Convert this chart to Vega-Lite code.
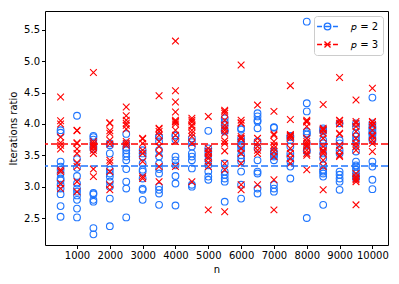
{
  "$schema": "https://vega.github.io/schema/vega-lite/v6.json",
  "autosize": "none",
  "width": 343,
  "height": 234,
  "padding": {"left": 45, "top": 11, "right": 11, "bottom": 39},
  "background": "white",
  "config": {
    "view": {"stroke": "black", "strokeWidth": 1},
    "axis": {
      "labelFont": "DejaVu Sans", "labelFontSize": 10, "labelColor": "black",
      "titleFont": "DejaVu Sans", "titleFontSize": 10, "titleFontWeight": "normal", "titleColor": "black",
      "tickColor": "black", "tickSize": 3.5, "domain": false, "grid": false, "labelPadding": 2, "labelOverlap": false
    },
    "legend": {
      "title": null,
      "orient": "top-right",
      "offset": 5,
      "padding": 4,
      "strokeColor": "#cccccc",
      "fillColor": "rgba(255,255,255,0.8)",
      "cornerRadius": 3,
      "labelFont": "DejaVu Sans",
      "labelFontSize": 10,
      "labelColor": "black",
      "symbolSize": 121,
      "symbolStrokeWidth": 1.3,
      "symbolOpacity": 1,
      "symbolFillColor": "transparent",
      "symbolOffset": 3,
      "labelOffset": 17,
      "rowPadding": 5
    }
  },
  "datasets": {
    "means": [{"p": "2", "v": 3.33}, {"p": "3", "v": 3.68}],
    "pts": [
      {"n":500,"p":"2","v":3.90},{"n":500,"p":"2","v":3.86},{"n":500,"p":"2","v":3.40},{"n":500,"p":"2","v":3.32},{"n":500,"p":"2","v":3.27},{"n":500,"p":"2","v":3.21},{"n":500,"p":"2","v":3.13},{"n":500,"p":"2","v":3.10},{"n":500,"p":"2","v":3.03},{"n":500,"p":"2","v":2.97},{"n":500,"p":"2","v":2.88},{"n":500,"p":"2","v":2.69},{"n":500,"p":"2","v":2.52},
      {"n":1000,"p":"2","v":4.13},{"n":1000,"p":"2","v":3.44},{"n":1000,"p":"2","v":3.30},{"n":1000,"p":"2","v":3.17},{"n":1000,"p":"2","v":3.05},{"n":1000,"p":"2","v":2.97},{"n":1000,"p":"2","v":2.92},{"n":1000,"p":"2","v":2.86},{"n":1000,"p":"2","v":2.79},{"n":1000,"p":"2","v":2.65},{"n":1000,"p":"2","v":2.51},
      {"n":1500,"p":"2","v":3.81},{"n":1500,"p":"2","v":3.79},{"n":1500,"p":"2","v":3.75},{"n":1500,"p":"2","v":3.69},{"n":1500,"p":"2","v":3.64},{"n":1500,"p":"2","v":3.60},{"n":1500,"p":"2","v":2.90},{"n":1500,"p":"2","v":2.88},{"n":1500,"p":"2","v":2.79},{"n":1500,"p":"2","v":2.76},{"n":1500,"p":"2","v":2.34},{"n":1500,"p":"2","v":2.24},
      {"n":2000,"p":"2","v":3.69},{"n":2000,"p":"2","v":3.66},{"n":2000,"p":"2","v":3.53},{"n":2000,"p":"2","v":3.27},{"n":2000,"p":"2","v":3.21},{"n":2000,"p":"2","v":3.16},{"n":2000,"p":"2","v":3.08},{"n":2000,"p":"2","v":3.00},{"n":2000,"p":"2","v":2.81},{"n":2000,"p":"2","v":2.37},
      {"n":2500,"p":"2","v":3.84},{"n":2500,"p":"2","v":3.69},{"n":2500,"p":"2","v":3.62},{"n":2500,"p":"2","v":3.58},{"n":2500,"p":"2","v":3.53},{"n":2500,"p":"2","v":3.48},{"n":2500,"p":"2","v":3.42},{"n":2500,"p":"2","v":3.28},{"n":2500,"p":"2","v":3.08},{"n":2500,"p":"2","v":2.97},{"n":2500,"p":"2","v":2.51},
      {"n":3000,"p":"2","v":3.58},{"n":3000,"p":"2","v":3.53},{"n":3000,"p":"2","v":3.48},{"n":3000,"p":"2","v":3.37},{"n":3000,"p":"2","v":3.27},{"n":3000,"p":"2","v":3.24},{"n":3000,"p":"2","v":3.13},{"n":3000,"p":"2","v":2.97},{"n":3000,"p":"2","v":2.95},{"n":3000,"p":"2","v":2.79},
      {"n":3500,"p":"2","v":3.80},{"n":3500,"p":"2","v":3.79},{"n":3500,"p":"2","v":3.72},{"n":3500,"p":"2","v":3.58},{"n":3500,"p":"2","v":3.48},{"n":3500,"p":"2","v":3.37},{"n":3500,"p":"2","v":3.28},{"n":3500,"p":"2","v":3.21},{"n":3500,"p":"2","v":3.00},{"n":3500,"p":"2","v":2.95},{"n":3500,"p":"2","v":2.89},{"n":3500,"p":"2","v":2.71},
      {"n":4000,"p":"2","v":3.82},{"n":4000,"p":"2","v":3.81},{"n":4000,"p":"2","v":3.75},{"n":4000,"p":"2","v":3.48},{"n":4000,"p":"2","v":3.42},{"n":4000,"p":"2","v":3.34},{"n":4000,"p":"2","v":3.17},{"n":4000,"p":"2","v":3.05},{"n":4000,"p":"2","v":2.70},
      {"n":4500,"p":"2","v":3.77},{"n":4500,"p":"2","v":3.71},{"n":4500,"p":"2","v":3.64},{"n":4500,"p":"2","v":3.53},{"n":4500,"p":"2","v":3.48},{"n":4500,"p":"2","v":3.42},{"n":4500,"p":"2","v":3.29},{"n":4500,"p":"2","v":3.03},{"n":4500,"p":"2","v":3.00},
      {"n":5000,"p":"2","v":3.89},{"n":5000,"p":"2","v":3.61},{"n":5000,"p":"2","v":3.56},{"n":5000,"p":"2","v":3.50},{"n":5000,"p":"2","v":3.42},{"n":5000,"p":"2","v":3.34},{"n":5000,"p":"2","v":3.24},{"n":5000,"p":"2","v":3.16},{"n":5000,"p":"2","v":3.11},
      {"n":5500,"p":"2","v":4.09},{"n":5500,"p":"2","v":4.03},{"n":5500,"p":"2","v":3.98},{"n":5500,"p":"2","v":3.90},{"n":5500,"p":"2","v":3.88},{"n":5500,"p":"2","v":3.37},{"n":5500,"p":"2","v":3.24},{"n":5500,"p":"2","v":3.19},{"n":5500,"p":"2","v":3.13},{"n":5500,"p":"2","v":3.08},{"n":5500,"p":"2","v":2.76},
      {"n":6000,"p":"2","v":3.93},{"n":6000,"p":"2","v":3.91},{"n":6000,"p":"2","v":3.77},{"n":6000,"p":"2","v":3.72},{"n":6000,"p":"2","v":3.66},{"n":6000,"p":"2","v":3.64},{"n":6000,"p":"2","v":3.58},{"n":6000,"p":"2","v":3.50},{"n":6000,"p":"2","v":3.45},{"n":6000,"p":"2","v":3.40},{"n":6000,"p":"2","v":3.24},{"n":6000,"p":"2","v":3.03},{"n":6000,"p":"2","v":2.81},
      {"n":6500,"p":"2","v":4.17},{"n":6500,"p":"2","v":4.12},{"n":6500,"p":"2","v":4.06},{"n":6500,"p":"2","v":4.04},{"n":6500,"p":"2","v":3.93},{"n":6500,"p":"2","v":3.72},{"n":6500,"p":"2","v":3.61},{"n":6500,"p":"2","v":3.42},{"n":6500,"p":"2","v":3.24},{"n":6500,"p":"2","v":3.21},{"n":6500,"p":"2","v":2.97},{"n":6500,"p":"2","v":2.89},
      {"n":7000,"p":"2","v":3.95},{"n":7000,"p":"2","v":3.94},{"n":7000,"p":"2","v":3.56},{"n":7000,"p":"2","v":3.53},{"n":7000,"p":"2","v":3.50},{"n":7000,"p":"2","v":3.48},{"n":7000,"p":"2","v":3.42},{"n":7000,"p":"2","v":3.03},{"n":7000,"p":"2","v":2.97},{"n":7000,"p":"2","v":2.92},
      {"n":7500,"p":"2","v":3.81},{"n":7500,"p":"2","v":3.79},{"n":7500,"p":"2","v":3.74},{"n":7500,"p":"2","v":3.64},{"n":7500,"p":"2","v":3.53},{"n":7500,"p":"2","v":3.48},{"n":7500,"p":"2","v":3.40},{"n":7500,"p":"2","v":3.32},{"n":7500,"p":"2","v":3.13},
      {"n":8000,"p":"2","v":5.63},{"n":8000,"p":"2","v":4.33},{"n":8000,"p":"2","v":4.20},{"n":8000,"p":"2","v":3.88},{"n":8000,"p":"2","v":3.85},{"n":8000,"p":"2","v":3.83},{"n":8000,"p":"2","v":3.69},{"n":8000,"p":"2","v":3.58},{"n":8000,"p":"2","v":3.56},{"n":8000,"p":"2","v":2.50},
      {"n":8500,"p":"2","v":3.93},{"n":8500,"p":"2","v":3.90},{"n":8500,"p":"2","v":3.88},{"n":8500,"p":"2","v":3.74},{"n":8500,"p":"2","v":3.69},{"n":8500,"p":"2","v":3.64},{"n":8500,"p":"2","v":3.53},{"n":8500,"p":"2","v":3.45},{"n":8500,"p":"2","v":3.34},{"n":8500,"p":"2","v":3.27},{"n":8500,"p":"2","v":3.24},{"n":8500,"p":"2","v":3.21},{"n":8500,"p":"2","v":3.16},{"n":8500,"p":"2","v":2.71},
      {"n":9000,"p":"2","v":4.01},{"n":9000,"p":"2","v":3.74},{"n":9000,"p":"2","v":3.69},{"n":9000,"p":"2","v":3.58},{"n":9000,"p":"2","v":3.53},{"n":9000,"p":"2","v":3.24},{"n":9000,"p":"2","v":3.19},{"n":9000,"p":"2","v":3.13},{"n":9000,"p":"2","v":3.08},{"n":9000,"p":"2","v":2.95},
      {"n":9500,"p":"2","v":4.01},{"n":9500,"p":"2","v":3.96},{"n":9500,"p":"2","v":3.85},{"n":9500,"p":"2","v":3.80},{"n":9500,"p":"2","v":3.74},{"n":9500,"p":"2","v":3.69},{"n":9500,"p":"2","v":3.56},{"n":9500,"p":"2","v":3.40},{"n":9500,"p":"2","v":3.34},{"n":9500,"p":"2","v":3.32},{"n":9500,"p":"2","v":3.27},{"n":9500,"p":"2","v":3.21},{"n":9500,"p":"2","v":3.16},{"n":9500,"p":"2","v":3.13},
      {"n":10000,"p":"2","v":4.42},{"n":10000,"p":"2","v":4.01},{"n":10000,"p":"2","v":3.96},{"n":10000,"p":"2","v":3.93},{"n":10000,"p":"2","v":3.90},{"n":10000,"p":"2","v":3.86},{"n":10000,"p":"2","v":3.85},{"n":10000,"p":"2","v":3.82},{"n":10000,"p":"2","v":3.77},{"n":10000,"p":"2","v":3.74},{"n":10000,"p":"2","v":3.40},{"n":10000,"p":"2","v":3.32},{"n":10000,"p":"2","v":3.11},{"n":10000,"p":"2","v":2.96},
      {"n":500,"p":"3","v":4.43},{"n":500,"p":"3","v":4.05},{"n":500,"p":"3","v":4.00},{"n":500,"p":"3","v":3.79},{"n":500,"p":"3","v":3.70},{"n":500,"p":"3","v":3.66},{"n":500,"p":"3","v":3.60},{"n":500,"p":"3","v":3.27},{"n":500,"p":"3","v":3.24},{"n":500,"p":"3","v":3.05},{"n":500,"p":"3","v":2.97},
      {"n":1000,"p":"3","v":3.90},{"n":1000,"p":"3","v":3.89},{"n":1000,"p":"3","v":3.70},{"n":1000,"p":"3","v":3.69},{"n":1000,"p":"3","v":3.60},{"n":1000,"p":"3","v":3.53},{"n":1000,"p":"3","v":3.38},{"n":1000,"p":"3","v":3.32},{"n":1000,"p":"3","v":3.08},{"n":1000,"p":"3","v":2.92},
      {"n":1500,"p":"3","v":4.82},{"n":1500,"p":"3","v":3.72},{"n":1500,"p":"3","v":3.69},{"n":1500,"p":"3","v":3.66},{"n":1500,"p":"3","v":3.64},{"n":1500,"p":"3","v":3.62},{"n":1500,"p":"3","v":3.58},{"n":1500,"p":"3","v":3.53},{"n":1500,"p":"3","v":3.28},{"n":1500,"p":"3","v":3.16},
      {"n":2000,"p":"3","v":4.02},{"n":2000,"p":"3","v":4.01},{"n":2000,"p":"3","v":3.89},{"n":2000,"p":"3","v":3.85},{"n":2000,"p":"3","v":3.74},{"n":2000,"p":"3","v":3.68},{"n":2000,"p":"3","v":3.42},{"n":2000,"p":"3","v":3.38},{"n":2000,"p":"3","v":3.24},{"n":2000,"p":"3","v":3.03},{"n":2000,"p":"3","v":2.95},
      {"n":2500,"p":"3","v":4.27},{"n":2500,"p":"3","v":4.13},{"n":2500,"p":"3","v":4.06},{"n":2500,"p":"3","v":4.01},{"n":2500,"p":"3","v":3.98},{"n":2500,"p":"3","v":3.92},{"n":2500,"p":"3","v":3.72},{"n":2500,"p":"3","v":3.69},{"n":2500,"p":"3","v":3.66},
      {"n":3000,"p":"3","v":3.77},{"n":3000,"p":"3","v":3.76},{"n":3000,"p":"3","v":3.69},{"n":3000,"p":"3","v":3.58},{"n":3000,"p":"3","v":3.53},{"n":3000,"p":"3","v":3.40},{"n":3000,"p":"3","v":3.16},{"n":3000,"p":"3","v":3.13},
      {"n":3500,"p":"3","v":4.45},{"n":3500,"p":"3","v":3.93},{"n":3500,"p":"3","v":3.92},{"n":3500,"p":"3","v":3.88},{"n":3500,"p":"3","v":3.82},{"n":3500,"p":"3","v":3.72},{"n":3500,"p":"3","v":3.64},{"n":3500,"p":"3","v":3.53},{"n":3500,"p":"3","v":3.32},{"n":3500,"p":"3","v":3.08},
      {"n":4000,"p":"3","v":5.32},{"n":4000,"p":"3","v":4.53},{"n":4000,"p":"3","v":4.35},{"n":4000,"p":"3","v":4.19},{"n":4000,"p":"3","v":4.06},{"n":4000,"p":"3","v":4.04},{"n":4000,"p":"3","v":4.03},{"n":4000,"p":"3","v":4.00},{"n":4000,"p":"3","v":3.90},{"n":4000,"p":"3","v":3.82},{"n":4000,"p":"3","v":3.72},{"n":4000,"p":"3","v":3.32},
      {"n":4500,"p":"3","v":4.09},{"n":4500,"p":"3","v":4.06},{"n":4500,"p":"3","v":4.03},{"n":4500,"p":"3","v":3.98},{"n":4500,"p":"3","v":3.96},{"n":4500,"p":"3","v":3.90},{"n":4500,"p":"3","v":3.85},{"n":4500,"p":"3","v":3.80},{"n":4500,"p":"3","v":3.69},{"n":4500,"p":"3","v":3.08},
      {"n":5000,"p":"3","v":4.12},{"n":5000,"p":"3","v":3.61},{"n":5000,"p":"3","v":3.56},{"n":5000,"p":"3","v":3.53},{"n":5000,"p":"3","v":3.48},{"n":5000,"p":"3","v":3.45},{"n":5000,"p":"3","v":3.38},{"n":5000,"p":"3","v":3.32},{"n":5000,"p":"3","v":2.63},
      {"n":5500,"p":"3","v":4.22},{"n":5500,"p":"3","v":4.20},{"n":5500,"p":"3","v":4.17},{"n":5500,"p":"3","v":4.06},{"n":5500,"p":"3","v":3.98},{"n":5500,"p":"3","v":3.93},{"n":5500,"p":"3","v":3.90},{"n":5500,"p":"3","v":3.85},{"n":5500,"p":"3","v":3.73},{"n":5500,"p":"3","v":3.69},{"n":5500,"p":"3","v":3.57},{"n":5500,"p":"3","v":3.37},{"n":5500,"p":"3","v":3.27},{"n":5500,"p":"3","v":2.60},
      {"n":6000,"p":"3","v":4.94},{"n":6000,"p":"3","v":4.06},{"n":6000,"p":"3","v":4.02},{"n":6000,"p":"3","v":4.01},{"n":6000,"p":"3","v":3.80},{"n":6000,"p":"3","v":3.77},{"n":6000,"p":"3","v":3.76},{"n":6000,"p":"3","v":3.61},{"n":6000,"p":"3","v":3.53},{"n":6000,"p":"3","v":3.37},{"n":6000,"p":"3","v":3.03},{"n":6000,"p":"3","v":2.95},
      {"n":6500,"p":"3","v":4.30},{"n":6500,"p":"3","v":3.77},{"n":6500,"p":"3","v":3.70},{"n":6500,"p":"3","v":3.64},{"n":6500,"p":"3","v":3.58},{"n":6500,"p":"3","v":3.53},{"n":6500,"p":"3","v":3.03},
      {"n":7000,"p":"3","v":4.20},{"n":7000,"p":"3","v":3.84},{"n":7000,"p":"3","v":3.82},{"n":7000,"p":"3","v":3.72},{"n":7000,"p":"3","v":3.66},{"n":7000,"p":"3","v":3.61},{"n":7000,"p":"3","v":3.56},{"n":7000,"p":"3","v":3.48},{"n":7000,"p":"3","v":3.11},{"n":7000,"p":"3","v":2.63},
      {"n":7500,"p":"3","v":4.61},{"n":7500,"p":"3","v":4.07},{"n":7500,"p":"3","v":3.83},{"n":7500,"p":"3","v":3.82},{"n":7500,"p":"3","v":3.81},{"n":7500,"p":"3","v":3.80},{"n":7500,"p":"3","v":3.77},{"n":7500,"p":"3","v":3.61},{"n":7500,"p":"3","v":3.53},{"n":7500,"p":"3","v":3.45},{"n":7500,"p":"3","v":3.37},
      {"n":8000,"p":"3","v":4.06},{"n":8000,"p":"3","v":4.04},{"n":8000,"p":"3","v":4.03},{"n":8000,"p":"3","v":3.96},{"n":8000,"p":"3","v":3.77},{"n":8000,"p":"3","v":3.72},{"n":8000,"p":"3","v":3.69},{"n":8000,"p":"3","v":3.66},{"n":8000,"p":"3","v":3.64},{"n":8000,"p":"3","v":3.58},{"n":8000,"p":"3","v":3.53},{"n":8000,"p":"3","v":3.50},{"n":8000,"p":"3","v":3.27},
      {"n":8500,"p":"3","v":4.31},{"n":8500,"p":"3","v":3.93},{"n":8500,"p":"3","v":3.91},{"n":8500,"p":"3","v":3.90},{"n":8500,"p":"3","v":3.85},{"n":8500,"p":"3","v":3.77},{"n":8500,"p":"3","v":3.64},{"n":8500,"p":"3","v":3.58},{"n":8500,"p":"3","v":3.56},{"n":8500,"p":"3","v":3.53},{"n":8500,"p":"3","v":3.42},{"n":8500,"p":"3","v":3.32},{"n":8500,"p":"3","v":2.95},
      {"n":9000,"p":"3","v":4.74},{"n":9000,"p":"3","v":4.06},{"n":9000,"p":"3","v":4.05},{"n":9000,"p":"3","v":4.01},{"n":9000,"p":"3","v":4.00},{"n":9000,"p":"3","v":3.85},{"n":9000,"p":"3","v":3.84},{"n":9000,"p":"3","v":3.66},{"n":9000,"p":"3","v":3.58},{"n":9000,"p":"3","v":3.50},{"n":9000,"p":"3","v":3.48},
      {"n":9500,"p":"3","v":4.38},{"n":9500,"p":"3","v":4.04},{"n":9500,"p":"3","v":4.01},{"n":9500,"p":"3","v":3.96},{"n":9500,"p":"3","v":3.88},{"n":9500,"p":"3","v":3.77},{"n":9500,"p":"3","v":3.69},{"n":9500,"p":"3","v":3.64},{"n":9500,"p":"3","v":3.58},{"n":9500,"p":"3","v":3.21},{"n":9500,"p":"3","v":3.16},{"n":9500,"p":"3","v":3.13},{"n":9500,"p":"3","v":3.11},{"n":9500,"p":"3","v":3.08},{"n":9500,"p":"3","v":2.71},
      {"n":10000,"p":"3","v":4.57},{"n":10000,"p":"3","v":4.04},{"n":10000,"p":"3","v":4.03},{"n":10000,"p":"3","v":3.99},{"n":10000,"p":"3","v":3.98},{"n":10000,"p":"3","v":3.90},{"n":10000,"p":"3","v":3.82},{"n":10000,"p":"3","v":3.80},{"n":10000,"p":"3","v":3.74},{"n":10000,"p":"3","v":3.69},{"n":10000,"p":"3","v":3.56}
    ]
  },
  "encoding": {
    "x": {
      "field": "n", "type": "quantitative",
      "scale": {"domain": [25, 10475], "nice": false, "zero": false},
      "axis": {"title": "n", "values": [1000, 2000, 3000, 4000, 5000, 6000, 7000, 8000, 9000, 10000], "tickCount": 20, "format": "d", "titlePadding": 4}
    },
    "y": {
      "field": "v", "type": "quantitative",
      "scale": {"domain": [2.07, 5.8], "nice": false, "zero": false},
      "axis": {"title": "Iterations ratio", "values": [2.5, 3.0, 3.5, 4.0, 4.5, 5.0, 5.5], "tickCount": 20, "format": ".1f", "titlePadding": 5}
    }
  },
  "layer": [
    {
      "data": {"name": "means"},
      "mark": {"type": "point", "filled": false, "opacity": 0},
      "encoding": {
        "x": null,
        "color": {
          "field": "p", "type": "nominal",
          "scale": {"domain": ["2", "3"], "range": ["#1f75fe", "#ff0000"]},
          "legend": {"labelExpr": "'𝑝 = ' + datum.label"}
        },
        "shape": {
          "field": "p", "type": "nominal",
          "scale": {"domain": ["2", "3"], "range": ["M-1.9,0H-1M-0.6,0H0.6M1,0H1.9M0.6,0A0.6,0.6,0,1,1,-0.6,0A0.6,0.6,0,1,1,0.6,0", "M-1.9,0H-1M1,0H1.9M-0.6,0H0.6M-0.55,-0.55L0.55,0.55M-0.55,0.55L0.55,-0.55"]},
          "legend": {"labelExpr": "'𝑝 = ' + datum.label"}
        }
      }
    },
    {
      "data": {"name": "pts"},
      "transform": [{"filter": "datum.p == '2'"}],
      "mark": {"type": "point", "shape": "circle", "filled": false, "size": 45, "strokeWidth": 1.1, "opacity": 1},
      "encoding": {
        "color": {"field": "p", "type": "nominal", "legend": null}
      }
    },
    {
      "data": {"name": "pts"},
      "transform": [{"filter": "datum.p == '3'"}],
      "mark": {"type": "point", "shape": "M-1,-1L1,1M-1,1L1,-1", "filled": false, "size": 45, "strokeWidth": 1.1, "opacity": 1},
      "encoding": {
        "color": {"field": "p", "type": "nominal", "legend": null}
      }
    },
    {
      "data": {"name": "means"},
      "mark": {"type": "rule", "strokeDash": [7, 3], "strokeWidth": 1.5},
      "encoding": {
        "x": null,
        "color": {"field": "p", "type": "nominal", "legend": null}
      }
    }
  ]
}
